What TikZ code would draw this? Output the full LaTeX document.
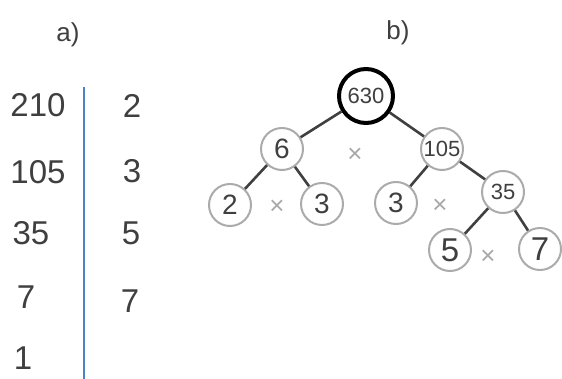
\documentclass[tikz,border=0pt]{standalone}
\usepackage{fontspec}
\setmainfont{Liberation Sans}
\definecolor{txt}{HTML}{3F3F3F}
\definecolor{ring}{HTML}{ABABAB}
\definecolor{edge}{HTML}{404040}
\definecolor{times}{HTML}{A8A8A8}
\definecolor{bar}{HTML}{4A86C5}
\begin{document}
\begin{tikzpicture}[x=1pt,y=-1pt,
  lbl/.style={text=txt,inner sep=0pt,font=\fontsize{26}{30}\selectfont},
  num/.style={text=txt,inner sep=0pt,font=\fontsize{33}{38}\selectfont},
  leaf/.style={circle,draw=ring,line width=2pt,minimum size=42pt,inner sep=0pt,text=txt,font=\fontsize{28}{32}\selectfont},
  bigleaf/.style={leaf,font=\fontsize{33}{38}\selectfont},
  mid/.style={leaf,font=\fontsize{22}{26}\selectfont},
  root/.style={circle,draw=black,line width=4pt,minimum size=54pt,inner sep=0pt,text=txt,font=\fontsize{22}{26}\selectfont},
  mul/.style={text=times,inner sep=0pt,font=\fontsize{26}{30}\selectfont},
  conn/.style={draw=edge,line width=2.6pt}]
\useasboundingbox (0,0) rectangle (562,379);
% part a
\node[lbl] (la) at (68,35) {a)};
\node[num] (n210) at (38,105) {210};
\node[num] (n105) at (38,172) {105};
\node[num] (n35) at (31,233) {35};
\node[num] (n7) at (26,297) {7};
\node[num] (n1) at (23,358) {1};
\node[num] (p2) at (132,106) {2};
\node[num] (p3) at (132,171) {3};
\node[num] (p5) at (131,233) {5};
\node[num] (p7) at (130,301) {7};
\coordinate (bt) at (84,87);
\coordinate (bb) at (84,379);
\draw[bar,line width=2pt] (bt) -- (bb);
% part b
\node[lbl] (lb) at (398,33) {b)};
\node[root] (r) at (366,96) {630};
\node[leaf] (s6) at (282,149) {6};
\node[mid] (s105) at (442,149) {105};
\node[leaf] (a2) at (230,205) {2};
\node[leaf] (a3) at (322,204) {3};
\node[leaf] (b3) at (396,203) {3};
\node[mid] (b35) at (503,192) {35};
\node[bigleaf] (c5) at (450,250) {5};
\node[bigleaf] (c7) at (540,249) {7};
\node[mul] (m1) at (355,155) {×};
\node[mul] (m2) at (277,207) {×};
\node[mul] (m3) at (440,206) {×};
\node[mul] (m4) at (488,257) {×};
\draw[conn] (r) -- (s6);
\draw[conn] (r) -- (s105);
\draw[conn] (s6) -- (a2);
\draw[conn] (s6) -- (a3);
\draw[conn] (s105) -- (b3);
\draw[conn] (s105) -- (b35);
\draw[conn] (b35) -- (c5);
\draw[conn] (b35) -- (c7);
\end{tikzpicture}
\end{document}
